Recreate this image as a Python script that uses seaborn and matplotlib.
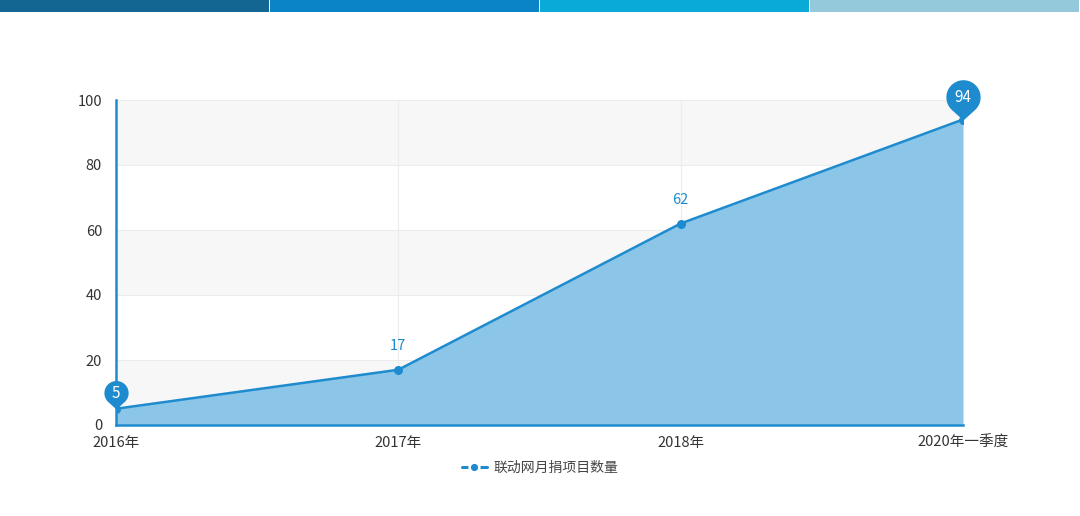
import numpy as np
import pandas as pd
import matplotlib.pyplot as plt
import seaborn as sns
from matplotlib.path import Path
from matplotlib.patches import Rectangle
from matplotlib.lines import Line2D

categories = ['2016年', '2017年', '2018年', '2020年一季度']
values = [5, 17, 62, 94]
series_name = '联动网月捐项目数量'
y_ticks = [0, 20, 40, 60, 80, 100]
top_bar_colors = ['#136592', '#0a84c6', '#0aaad7', '#93c9db']

line_color = '#1f8bcf'
fill_color = '#8bc5e7'
text_color = '#333333'

PIN_D = 1.35


def pin_path(d=PIN_D, r=1.0):
    # teardrop marker: tip at the origin, round head above it
    a = np.degrees(np.arccos(r / d))
    angles = np.radians(np.linspace(-90 + a, 270 - a, 60))
    head = np.column_stack([r * np.cos(angles), d + r * np.sin(angles)])
    verts = np.vstack([[0, 0], head, [0, 0]])
    codes = [Path.MOVETO] + [Path.LINETO] * (len(verts) - 2) + [Path.CLOSEPOLY]
    return Path(verts, codes)


sns.set_style('white')
plt.rcParams['font.family'] = ['Noto Sans CJK SC', 'DejaVu Sans']

df = pd.DataFrame({'x': range(len(categories)), 'y': values})

fig = plt.figure(figsize=(10.8, 5.16), dpi=100)
ax = fig.add_axes([116 / 1080, 91 / 516, 847 / 1080, 325 / 516])

# header stripes
for i, c in enumerate(top_bar_colors):
    fig.add_artist(Rectangle((i * 0.25, 1 - 12 / 516), 0.25 - 0.001, 12 / 516,
                             transform=fig.transFigure, color=c, lw=0))

# alternating bands and grid
for lo in [0, 40, 80]:
    ax.axhspan(lo, lo + 20, color='#f7f7f7', zorder=0, lw=0)
for yv in y_ticks[1:]:
    ax.axhline(yv, color='#ececec', lw=0.8, zorder=0.5)
for xv in df['x'][1:]:
    ax.axvline(xv, color='#ececec', lw=0.8, zorder=0.5)

ax.fill_between(df['x'], df['y'], 0, color=fill_color, lw=0, zorder=1)
sns.lineplot(data=df, x='x', y='y', ax=ax, color=line_color, lw=1.8,
             marker='o', markersize=6.5, markeredgewidth=0, zorder=3,
             legend=False)

# labels for middle points
for xi, yi in zip(df['x'][1:3], df['y'][1:3]):
    ax.annotate(str(yi), (xi, yi), xytext=(0, 12), textcoords='offset points',
                ha='center', va='bottom', color=line_color, fontsize=10.5)

# pins for min and max
pin = pin_path()
for idx, size in [(0, 41), (3, 58)]:
    xi, yi = df['x'][idx], df['y'][idx]
    ax.plot(xi, yi, marker=pin, markersize=size, color=line_color, mew=0,
            zorder=5, clip_on=False)
    head = size / 2 / (PIN_D + 1) * PIN_D
    ax.annotate(str(yi), (xi, yi), xytext=(0, head - 1), textcoords='offset points',
                ha='center', va='center', color='white', fontsize=11,
                zorder=6, annotation_clip=False)

ax.set_xlim(0, 3)
ax.set_ylim(0, 100)
ax.set_xticks(df['x'])
ax.set_xticklabels(categories)
ax.set_yticks(y_ticks)
ax.set_xlabel('')
ax.set_ylabel('')
ax.tick_params(axis='x', colors=line_color, length=5, width=1.2, labelcolor=text_color,
               labelsize=10.5, pad=3)
ax.tick_params(axis='y', length=0, labelcolor=text_color, labelsize=10.5, pad=10)

for side in ['top', 'right']:
    ax.spines[side].set_visible(False)
for side in ['left', 'bottom']:
    ax.spines[side].set_color(line_color)
    ax.spines[side].set_linewidth(1.8)

# legend handle: short dashes either side of the dot
handle = Line2D([], [], color=line_color, lw=2.2, marker='o', markersize=7,
                markerfacecolor=line_color, markeredgecolor='white', markeredgewidth=1.8)
fig.legend([handle], [series_name], loc='center', bbox_to_anchor=(0.5, 48 / 516),
           frameon=False, fontsize=10, labelcolor='#444444', handlelength=1.8,
           handletextpad=0.5)

fig.savefig('out.png', dpi=100, facecolor='white')
